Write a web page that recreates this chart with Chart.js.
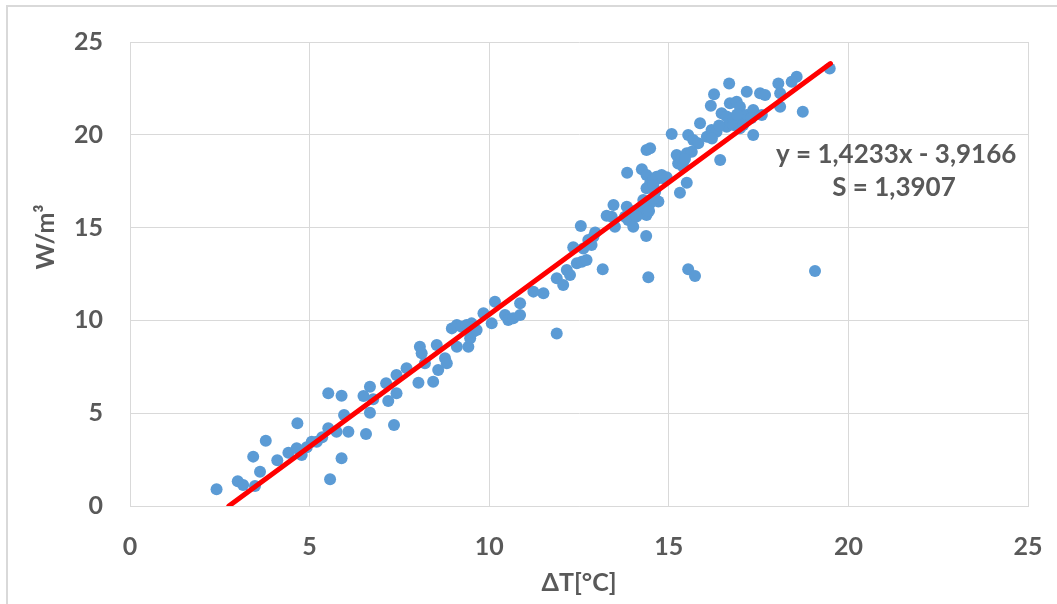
<!DOCTYPE html>
<html>
<head>
<meta charset="utf-8">
<title>W/m³ vs ΔT</title>
<script src="https://cdn.jsdelivr.net/npm/chart.js@4/dist/chart.umd.min.js"></script>
<style>
  html, body { margin: 0; padding: 0; background: #ffffff; overflow: hidden; }
  #wrap { position: relative; width: 1057px; height: 604px; }
  #frame { position: absolute; left: 6px; top: 5px; width: 1200px; height: 800px;
           border-left: 2px solid #d9d9d9; border-top: 2px solid #d9d9d9; }
  #chart { position: absolute; left: 0; top: 0; }
</style>
</head>
<body>
<div id="wrap">
  <div id="frame"></div>
  <canvas id="chart" width="1057" height="604"></canvas>
</div>
<script>
var deltaT = [
  2.41, 3.00, 3.15, 3.48, 3.43, 3.62, 3.78, 4.10, 4.41, 4.66, 4.64, 4.78, 4.92, 5.06, 5.20,
  5.52, 5.52, 5.57, 5.89, 5.89, 5.96, 5.75, 6.08, 6.50, 6.68, 6.68, 6.57, 6.77, 7.13, 7.19,
  7.35, 7.42, 7.42, 7.70, 8.03, 8.07, 8.12, 8.21, 8.44, 8.54, 8.58, 8.77, 8.82, 8.96, 9.10,
  9.23, 9.37, 9.51, 9.10, 9.42, 9.47, 9.56, 9.65, 9.84, 10.07, 10.16, 10.44, 10.53, 10.67, 10.86,
  10.86, 11.23, 11.51, 11.88, 11.88, 12.06, 12.16, 12.25, 12.34, 12.44, 12.58, 12.71, 12.62, 12.76, 12.85,
  12.55, 12.95, 13.16, 13.27, 13.41, 13.46, 13.50, 13.78, 13.87, 14.01, 13.83, 14.20, 14.29, 14.38, 14.34,
  14.37, 14.43, 13.84, 14.25, 14.38, 14.48, 14.57, 14.71, 14.85, 14.38, 14.62, 14.71, 15.31, 15.50, 15.26,
  15.40, 15.54, 15.73, 19.48, 18.56, 18.42, 18.05, 18.10, 17.54, 17.68, 17.17, 16.68, 16.26, 16.17, 16.70,
  16.89, 16.98, 16.47, 16.61, 16.80, 16.98, 17.17, 17.35, 17.59, 18.10, 18.73, 15.87, 15.54, 15.68, 15.82,
  16.06, 16.19, 16.33, 16.61, 16.80, 16.98, 17.07, 17.35, 15.08, 15.22, 15.36, 15.50, 15.64, 16.43, 14.38,
  14.48, 14.66, 14.80, 14.94, 14.57, 14.29, 14.48, 19.07, 14.10, 14.45, 14.60, 13.95, 16.40, 16.90,
  17.30, 16.20, 15.45, 12.90, 5.35
];
var power = [
  0.90, 1.33, 1.13, 1.08, 2.66, 1.85, 3.52, 2.46, 2.87, 4.46, 3.11, 2.75, 3.16, 3.46, 3.46,
  6.07, 4.19, 1.44, 5.94, 2.57, 4.90, 4.00, 4.00, 5.93, 6.43, 5.03, 3.88, 5.75, 6.61, 5.66,
  4.36, 7.06, 6.07, 7.42, 6.64, 8.58, 8.23, 7.69, 6.70, 8.67, 7.33, 7.96, 7.69, 9.57, 9.75,
  9.66, 9.75, 9.84, 8.58, 8.58, 9.04, 9.39, 9.48, 10.38, 9.84, 11.01, 10.29, 10.02, 10.11, 10.29,
  10.92, 11.55, 11.46, 9.30, 12.27, 11.91, 12.72, 12.45, 13.94, 13.08, 13.16, 13.25, 13.88, 14.33, 14.06,
  15.09, 14.73, 12.75, 15.64, 15.59, 16.22, 15.05, 15.59, 15.41, 15.05, 16.13, 16.04, 15.77, 15.68, 16.31,
  14.55, 12.32, 17.96, 18.14, 17.83, 17.39, 17.56, 17.66, 17.66, 17.12, 16.93, 16.40, 16.88, 17.42, 18.46,
  18.28, 12.75, 12.39, 23.57, 23.13, 22.86, 22.77, 22.24, 22.24, 22.14, 22.32, 22.77, 22.18, 21.57, 21.70,
  21.78, 21.51, 21.16, 20.98, 20.89, 20.80, 21.07, 21.34, 21.07, 21.51, 21.24, 20.62, 19.99, 19.72, 19.54,
  19.90, 20.26, 20.17, 20.44, 20.53, 20.35, 20.53, 19.99, 20.04, 18.91, 18.73, 19.00, 19.09, 18.64, 19.18,
  19.27, 17.74, 17.83, 17.71, 17.30, 16.49, 16.31, 12.66, 15.60, 15.90, 16.60, 15.90, 20.50, 21.10,
  20.90, 19.80, 18.70, 14.50, 3.70
];

// linear trend line end points (y = 1,4233x - 3,9166)
var trendX = [2.752, 19.5];
var trendY = [0, 23.84];

var xTickValues = [0, 5, 10, 15, 20, 25];
var yTickValues = [0, 5, 10, 15, 20, 25];

var equationLines = ['y = 1,4233x - 3,9166', 'S = 1,3907'];
var equationAnchorX = [21.33, 21.27];
var equationAnchorY = [18.91, 17.13];

var xTitle = 'ΔT[°C]';
var yTitle = 'W/m³';

var TEXT_COLOR = '#595959';
var GRID_COLOR = '#d9d9d9';
var FONT = 'Lato, "Open Sans", sans-serif';

function zipPoints(xs, ys) {
  var out = [];
  for (var i = 0; i < xs.length; i++) out.push({ x: xs[i], y: ys[i] });
  return out;
}

function fixedTicks(values) {
  return function (scale) {
    scale.ticks = values.map(function (v) { return { value: v }; });
  };
}

// equation label + rotated y title (Excel places it above the axis middle)
var labelPlugin = {
  id: 'trendLabels',
  afterDraw: function (chart) {
    var ctx = chart.ctx;
    var xs = chart.scales.x;
    var ys = chart.scales.y;
    ctx.save();
    ctx.fillStyle = TEXT_COLOR;
    ctx.font = 'bold 26px ' + FONT;
    ctx.textAlign = 'center';
    ctx.textBaseline = 'middle';
    for (var i = 0; i < equationLines.length; i++) {
      ctx.fillText(equationLines[i], xs.getPixelForValue(equationAnchorX[i]), ys.getPixelForValue(equationAnchorY[i]));
    }
    ctx.font = 'bold 25px ' + FONT;
    ctx.translate(46, ys.getPixelForValue(14.5));
    ctx.rotate(-Math.PI / 2);
    ctx.fillText(yTitle, 0, 0);
    ctx.restore();
  }
};

new Chart(document.getElementById('chart'), {
  type: 'scatter',
  data: {
    datasets: [
      {
        type: 'line',
        label: 'trend',
        data: zipPoints(trendX, trendY),
        borderColor: '#ff0000',
        borderWidth: 5,
        borderCapStyle: 'round',
        pointRadius: 0,
        fill: false,
        order: 1
      },
      {
        label: 'W/m³',
        data: zipPoints(deltaT, power),
        backgroundColor: '#5b9bd5',
        borderWidth: 0,
        pointRadius: 6,
        pointHoverRadius: 6,
        order: 2
      }
    ]
  },
  options: {
    responsive: false,
    animation: false,
    layout: { padding: { top: 42, right: 29, left: 0, bottom: 0 } },
    scales: {
      x: {
        type: 'linear',
        min: 0,
        max: 25,
        afterBuildTicks: fixedTicks(xTickValues),
        afterFit: function (scale) {
          // tick padding is large (labels sit low) - keep it from eating the sides
          scale.height = 98;
          scale.paddingLeft = 0;
          scale.paddingRight = 0;
        },
        grid: { color: GRID_COLOR, lineWidth: 1, drawTicks: false },
        border: { color: GRID_COLOR, width: 1 },
        ticks: { color: TEXT_COLOR, padding: 26, font: { family: FONT, size: 25, weight: 'bold' } },
        title: {
          display: true,
          text: xTitle,
          color: TEXT_COLOR,
          font: { family: FONT, size: 25, weight: 'bold' },
          padding: { top: 0, bottom: 6 }
        }
      },
      y: {
        type: 'linear',
        min: 0,
        max: 25,
        afterBuildTicks: fixedTicks(yTickValues),
        afterFit: function (scale) { scale.width = 130; },
        grid: { color: GRID_COLOR, lineWidth: 1, drawTicks: false },
        border: { color: GRID_COLOR, width: 1 },
        ticks: { color: TEXT_COLOR, padding: 27, font: { family: FONT, size: 25, weight: 'bold' } }
      }
    },
    plugins: {
      legend: { display: false },
      tooltip: { enabled: false }
    }
  },
  plugins: [labelPlugin]
});
</script>
</body>
</html>
